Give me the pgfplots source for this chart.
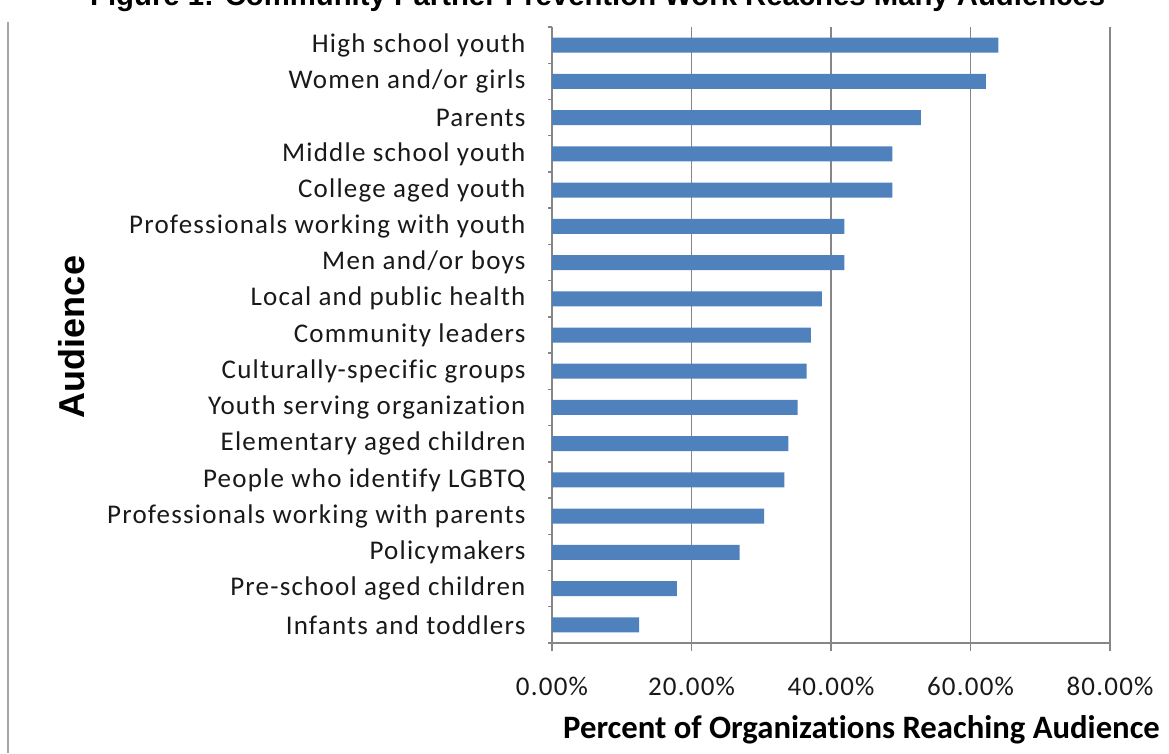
\documentclass[border=0pt]{standalone}
\usepackage{pgfplots}
\pgfplotsset{compat=1.18}
\usepackage{fontspec}
\setmainfont[Ligatures=NoCommon]{Carlito}
\newfontfamily\tickfont[LetterSpace=4.5, Ligatures=NoCommon]{Carlito}
\newfontfamily\arialfont{Liberation Sans}

\definecolor{barblue}{HTML}{4F81BD}
\definecolor{axisgray}{HTML}{868686}

\begin{document}
\begin{tikzpicture}[x=1pt,y=1pt]
% left frame line of the original figure
\draw[color=black!35, line width=1.5pt] (8,0) -- (8,731);

\begin{axis}[
    at={(552pt,110pt)}, anchor=south west,
    scale only axis,
    width=558pt, height=616pt,
    xbar, bar width=15pt,
    xmin=0, xmax=80,
    ymin=-0.5, ymax=16.5,
    y dir=reverse,
    axis x line*=bottom, axis y line*=left,
    axis line style={-, color=axisgray, line width=1.4pt},
    xtick={0,20,40,60,80},
    xticklabels={0.00\%,20.00\%,40.00\%,60.00\%,80.00\%},
    ytick={0,...,16},
    yticklabels={High school youth, Women and/or girls, Parents,
        Middle school youth, College aged youth,
        Professionals working with youth, Men and/or boys,
        Local and public health, Community leaders,
        Culturally-specific groups, Youth serving organization,
        Elementary aged children, People who identify LGBTQ,
        Professionals working with parents, Policymakers,
        Pre-school aged children, Infants and toddlers},
    minor ytick={-0.5,0.5,...,16.5},
    tick align=outside,
    major tick length=8pt, minor tick length=4pt,
    major tick style={color=axisgray, line width=1.4pt},
    minor tick style={color=axisgray, line width=1.4pt},
    major y tick style={draw=none},
    xmajorgrids,
    grid style={color=axisgray, line width=1.4pt},
    tick label style={font=\tickfont\fontsize{27}{29}\selectfont, text=black!90},
    yticklabel style={xshift=-15pt},
    xticklabel style={yshift=-23pt},
]
\addplot[fill=barblue, draw=none] coordinates {
    (64.0,0) (62.2,1) (52.9,2) (48.8,3) (48.8,4) (41.9,5) (41.9,6)
    (38.7,7) (37.1,8) (36.5,9) (35.2,10) (33.9,11) (33.3,12)
    (30.4,13) (26.9,14) (17.9,15) (12.5,16)
};
\end{axis}

% axis titles
\node[anchor=base west, inner sep=0pt, font=\fontsize{32.7}{34}\selectfont\bfseries]
    at (563,15) {Percent of Organizations Reaching Audience};
\node[rotate=90, inner sep=0pt, font=\arialfont\fontsize{36}{38}\selectfont\bfseries]
    at (72,416) {Audience};
% chart title, cut off by the top edge as in the original
\node[anchor=base west, inner sep=0pt, font=\arialfont\fontsize{29.3}{31}\selectfont\bfseries]
    at (90,747) {Figure 1: Community Partner Prevention Work Reaches Many Audiences};

\pgfresetboundingbox
\useasboundingbox (0,0) rectangle (1169,753);
\end{tikzpicture}
\end{document}
